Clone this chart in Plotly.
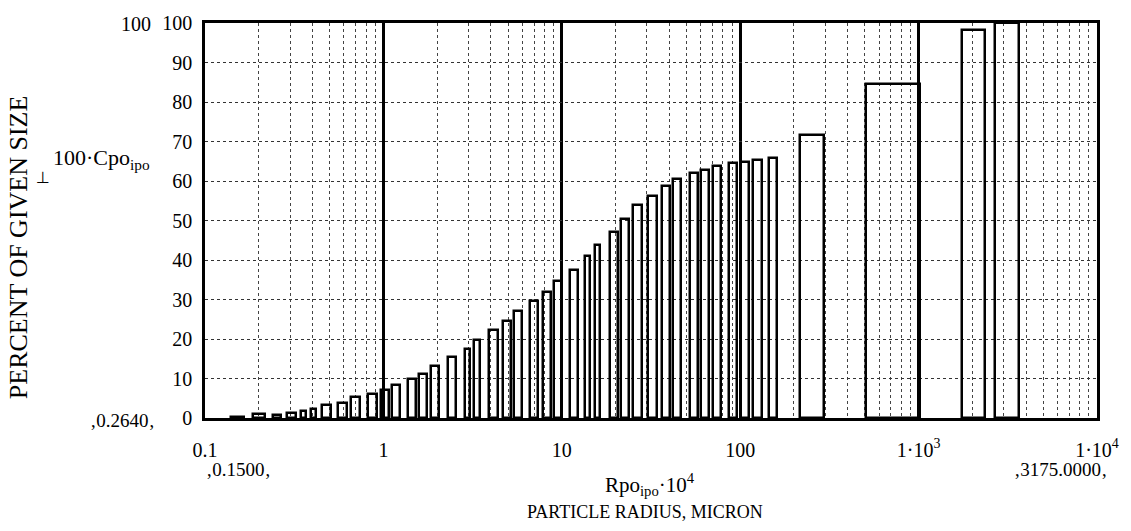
import plotly.graph_objects as go

# Particle radius (bar centres, micron) and bar widths (micron)
radius = [0.153, 0.2005, 0.252, 0.3075, 0.358, 0.404, 0.482, 0.591, 0.70, 0.872,
          1.02, 1.18, 1.445, 1.675, 1.942, 2.44, 2.967, 3.36, 4.145, 4.926,
          5.70, 6.96, 8.26, 9.56, 11.71, 13.89, 15.8, 19.59, 22.74, 26.49,
          32.21, 38.45, 44.36, 55.2, 63.72, 74.2, 90.7, 106.2, 124.8, 153.1,
          254.8, 759.0, 2054.0, 3175.0]
bar_width = [0.0248, 0.0316, 0.026, 0.0356, 0.023, 0.026, 0.056, 0.066, 0.081, 0.101,
             0.10, 0.126, 0.156, 0.172, 0.19, 0.25, 0.19, 0.246, 0.437, 0.49,
             0.59, 0.72, 0.85, 0.96, 1.26, 0.89, 1.02, 1.93, 2.36, 3.0,
             3.72, 3.84, 4.58, 5.68, 6.8, 7.65, 9.3, 10.7, 14.1, 16.5,
             79.6, 507.0, 609.0, 956.0]
percent = [0.264, 0.9, 0.85, 1.3, 1.9, 2.3, 3.35, 3.8, 5.3, 6.1,
           7.1, 8.45, 9.95, 11.2, 13.15, 15.5, 17.45, 19.75, 22.2, 24.6,
           27.1, 29.6, 31.9, 34.7, 37.5, 40.9, 43.8, 47.1, 50.5, 53.9,
           56.3, 58.7, 60.6, 62.0, 62.9, 63.8, 64.45, 64.8, 65.4, 65.75,
           71.6, 84.5, 98.2, 100.0]

x_tickvals = [0.1, 1, 10, 100, 1000, 10000]
x_ticktext = ["0.1", "1", "10", "100", "1·10<sup>3</sup>", "1·10<sup>4</sup>"]
y_tickvals = [0, 10, 20, 30, 40, 50, 60, 70, 80, 90, 100]
y_ticktext = [str(v) for v in y_tickvals]

W, H = 1131, 531
L, R, T, B = 205, 31, 17, 113
FONT = "Liberation Serif"
FS = 20


def px(xp):
    return (xp - L) / (W - L - R)


def py(yp):
    return (H - B - yp) / (H - T - B)


fig = go.Figure()
fig.add_trace(go.Bar(
    x=radius, y=percent, width=bar_width,
    marker=dict(color="rgba(0,0,0,0)", line=dict(color="black", width=2.5)),
    showlegend=False, hoverinfo="x+y",
))

fig.update_layout(
    width=W, height=H,
    margin=dict(l=L, r=R, t=T, b=B, pad=0),
    paper_bgcolor="white", plot_bgcolor="white",
    font=dict(family=FONT, color="black", size=FS),
    bargap=0,
    xaxis=dict(
        type="log", range=[-1, 4],
        tickvals=x_tickvals, ticktext=x_ticktext,
        showgrid=True, gridcolor="black", gridwidth=2.5,
        minor=dict(dtick="D1", showgrid=True, gridcolor="#444", griddash="dot", gridwidth=1, ticks=""),
        showline=True, linecolor="black", linewidth=2.5, mirror=True,
        ticks="", ticklabelstandoff=12, zeroline=False,
        tickfont=dict(family=FONT, size=FS),
    ),
    yaxis=dict(
        range=[0, 100],
        tickvals=y_tickvals, ticktext=y_ticktext,
        showgrid=True, gridcolor="#333", griddash="dot", gridwidth=1,
        showline=True, linecolor="black", linewidth=2.5, mirror=True,
        ticks="", ticklabelstandoff=6, zeroline=False,
        tickfont=dict(family=FONT, size=FS),
    ),
)

ann = [
    dict(text="100", x=px(153), y=py(18), xanchor="right", yanchor="middle"),
    dict(text="100·Cpo<sub>ipo</sub>", x=px(152), y=py(155), xanchor="right", yanchor="middle", font=dict(size=22)),
    dict(text="⊥", x=px(42), y=py(174), xanchor="center", yanchor="middle", font=dict(size=16, family="DejaVu Sans")),
    dict(text="‚0.2640‚", x=px(157), y=py(421), xanchor="right", yanchor="middle", font=dict(size=19)),
    dict(text="‚0.1500‚", x=px(204), y=py(470), xanchor="left", yanchor="middle", font=dict(size=19)),
    dict(text="‚3175.0000‚", x=px(1112), y=py(470), xanchor="right", yanchor="middle", font=dict(size=19)),
    dict(text="Rpo<sub>ipo</sub>·10<sup>4</sup>", x=px(651), y=py(486), xanchor="center", yanchor="middle", font=dict(size=21)),
    dict(text="PARTICLE RADIUS, MICRON", x=px(646), y=py(513), xanchor="center", yanchor="middle", font=dict(size=18)),
    dict(text="PERCENT OF GIVEN SIZE", x=px(18), y=py(245), xanchor="center", yanchor="middle", textangle=-90, font=dict(size=26)),
]
for a in ann:
    a.update(xref="paper", yref="paper", showarrow=False)
    f = dict(family=FONT, size=FS, color="black")
    f.update(a.get("font", {}))
    a["font"] = f
    fig.add_annotation(**a)

fig.write_html("out.html", config={"displayModeBar": False},
               post_script="document.body.style.margin='0px';document.body.style.overflow='hidden';")
